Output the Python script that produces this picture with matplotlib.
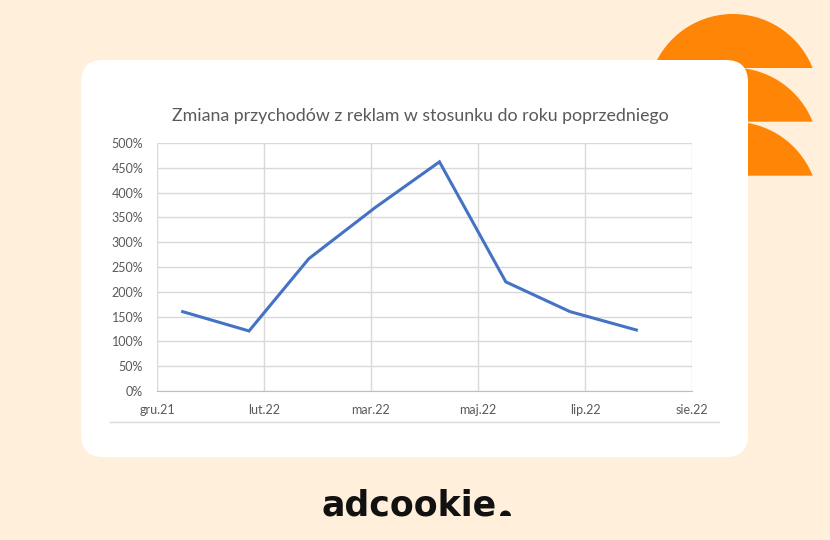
import numpy as np
import pandas as pd
import matplotlib
matplotlib.use("Agg")
import matplotlib.pyplot as plt
from matplotlib.patches import FancyBboxPatch, Polygon, Wedge
from matplotlib.ticker import PercentFormatter

# === DATA ===
dates = pd.to_datetime(["2021-12-31", "2022-01-31", "2022-02-28", "2022-03-31",
                        "2022-04-30", "2022-05-31", "2022-06-30", "2022-07-31"])
values = [160, 121, 267, 370, 462, 220, 160, 123]  # % change
tick_dates = pd.date_range("2021-12-19", periods=6, freq="50D")
tick_labels = ["gru.21", "lut.22", "mar.22", "maj.22", "lip.22", "sie.22"]
title = "Zmiana przychodów z reklam w stosunku do roku poprzedniego"

# === COLOURS ===
bg = "#FFEFDB"
orange = "#FF8506"
grid_c = "#D9D9D9"
text_c = "#595959"
line_c = "#4472C4"

W, H = 830, 540
fig = plt.figure(figsize=(W / 100, H / 100), dpi=100)
fig.patch.set_facecolor(bg)

# background layer in pixel coords (y down)
bgax = fig.add_axes([0, 0, 1, 1])
bgax.set_xlim(0, W)
bgax.set_ylim(H, 0)
bgax.axis("off")

# orange circle segments top right
R = 85.7
theta = np.linspace(0, np.pi, 200)
for k, base in enumerate([176.7, 122.7, 69.0]):
    cx, cy = 733, base + R - 55
    xs = cx + R * np.cos(theta)
    ys = cy - R * np.sin(theta)
    keep = ys <= base
    pts = np.column_stack([xs[keep], ys[keep]])
    bgax.add_patch(Polygon(pts, closed=True, facecolor=orange, edgecolor="none", zorder=1 + k))

# white card
bgax.add_patch(FancyBboxPatch((81 + 22, 60 + 22), 667 - 44, 397 - 44,
                              boxstyle="round,pad=22", facecolor="white",
                              edgecolor="none", zorder=5))
# chart area bottom border
bgax.plot([110, 719], [422, 422], color=grid_c, lw=1, zorder=6)

# title
bgax.text(420, 116, title, ha="center", va="center", fontsize=12.8,
          family="Lato", color=text_c, zorder=7)

# logo
bgax.text(409, 515, "adcookie", ha="center", va="baseline", fontsize=25,
          family="DejaVu Sans", fontweight="bold", color="#111111", zorder=7)
bgax.add_patch(Wedge((505.5, 516), 5.5, 180, 360, facecolor="#111111",
                     edgecolor="none", zorder=7))

# === CHART ===
ax = fig.add_axes([157 / W, (H - 391) / H, 535 / W, 248 / H])
ax.set_zorder(10)
ax.patch.set_alpha(0)
ax.plot(dates, values, color=line_c, lw=2.2, solid_joinstyle="miter")

ax.set_xlim(tick_dates[0], tick_dates[-1])
ax.set_ylim(0, 500)
ax.set_yticks(np.arange(0, 501, 50))
ax.yaxis.set_major_formatter(PercentFormatter(decimals=0))
ax.set_xticks(tick_dates)
ax.set_xticklabels(tick_labels)

ax.grid(True, color=grid_c, lw=1)
ax.set_axisbelow(True)
for s in ["top", "right", "left"]:
    ax.spines[s].set_visible(False)
ax.spines["bottom"].set_color("#BFBFBF")
ax.tick_params(length=0, labelcolor=text_c, labelsize=9)
ax.tick_params(axis="y", pad=10)
ax.tick_params(axis="x", pad=9)
for lab in ax.get_xticklabels() + ax.get_yticklabels():
    lab.set_family("Lato")

fig.savefig("out.png", dpi=100, facecolor=bg)
